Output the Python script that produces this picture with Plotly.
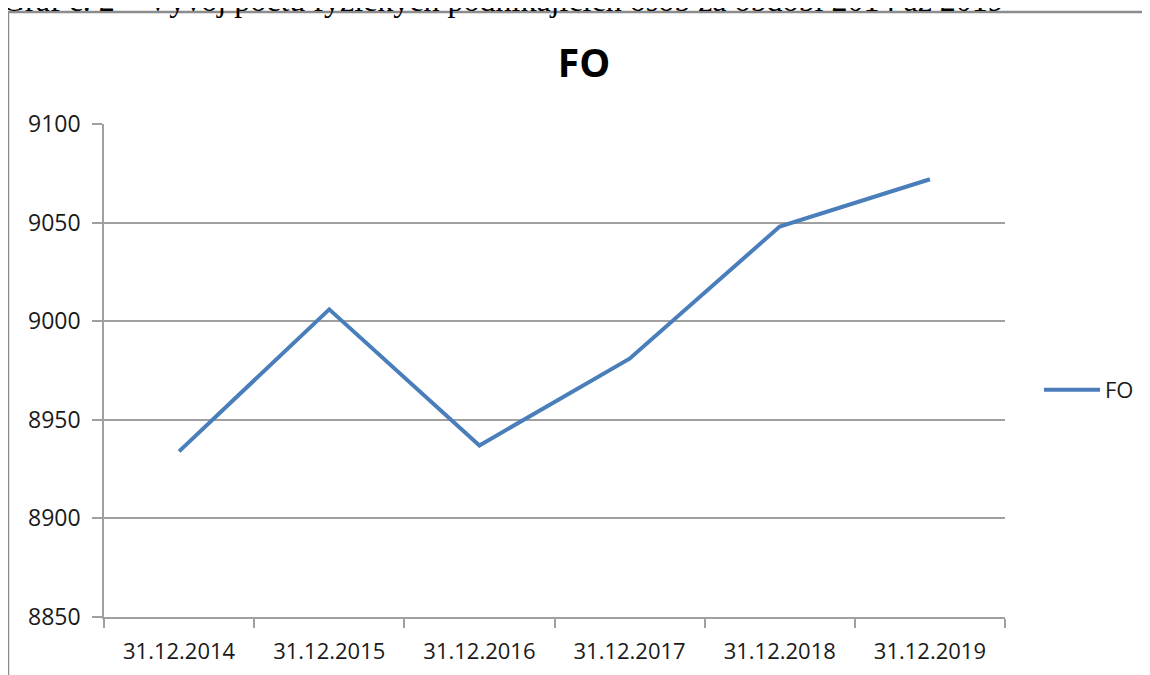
import plotly.graph_objects as go

dates = ['31.12.2014', '31.12.2015', '31.12.2016', '31.12.2017', '31.12.2018', '31.12.2019']
fo = [8934, 9006, 8937, 8981, 9048, 9072]
y_ticks = [8850, 8900, 8950, 9000, 9050, 9100]

W, H = 1150, 675
OFF = 8  # page body margin
# plot area in screenshot pixels: x 104..1005, y 124..617
L, T = 104 - OFF, 124 - OFF
R = W - (1005 - OFF)
B = H - (617 - OFF)
pw, ph = W - L - R, H - T - B


def px(x):
    return (x - OFF - L) / pw


def py(y):
    return (H - B - (y - OFF)) / ph


fig = go.Figure()
fig.add_trace(go.Scatter(x=dates, y=fo, mode='lines', name='FO',
                         line=dict(color='#4a7ebb', width=4)))

fig.update_layout(
    width=W, height=H,
    margin=dict(l=L, r=R, t=T, b=B),
    paper_bgcolor='white', plot_bgcolor='white',
    font=dict(family='Open Sans', size=22, color='#1a1a1a'),
    title=dict(text='<b>FO</b>', xref='container', x=(584 - OFF) / W, xanchor='center',
               y=1 - (63 - OFF) / H, yanchor='middle', font=dict(size=39, color='black')),
    showlegend=True,
    legend=dict(x=px(1039), y=py(390), xanchor='left', yanchor='middle', itemwidth=56,
                font=dict(size=22), bgcolor='rgba(0,0,0,0)'),
)

fig.update_xaxes(type='category', range=[-0.5, 5.5], showgrid=False, showline=True,
                 linecolor='#a0a0a0', linewidth=1.5, ticks='outside', tickson='boundaries',
                 ticklen=9, tickcolor='#a0a0a0', tickwidth=1.5, ticklabelstandoff=14)
fig.update_yaxes(range=[8850, 9100], tickvals=y_ticks, showgrid=True, gridcolor='#a0a0a0',
                 gridwidth=1.5, showline=True, linecolor='#a0a0a0', linewidth=1.5,
                 ticks='outside', ticklen=10, tickcolor='#a0a0a0', tickwidth=1.5,
                 zeroline=False, tickfont=dict(size=23), ticklabelstandoff=7)

# outer frame of the embedded chart
fig.add_shape(type='rect', xref='paper', yref='paper',
              x0=px(8), x1=px(1170), y0=py(700), y1=py(12),
              line=dict(color='#8c8c8c', width=2.5), fillcolor='rgba(0,0,0,0)')

# caption above the chart, cut off at the top
fig.add_annotation(text='Graf č. 2 – Vývoj počtu fyzických podnikajících osob za období 2014 až 2019',
                   xref='paper', yref='paper', x=px(0), y=py(20), xanchor='left', yanchor='bottom',
                   showarrow=False, font=dict(family='Liberation Serif', size=32, color='black'))

fig.write_html("out.html")
